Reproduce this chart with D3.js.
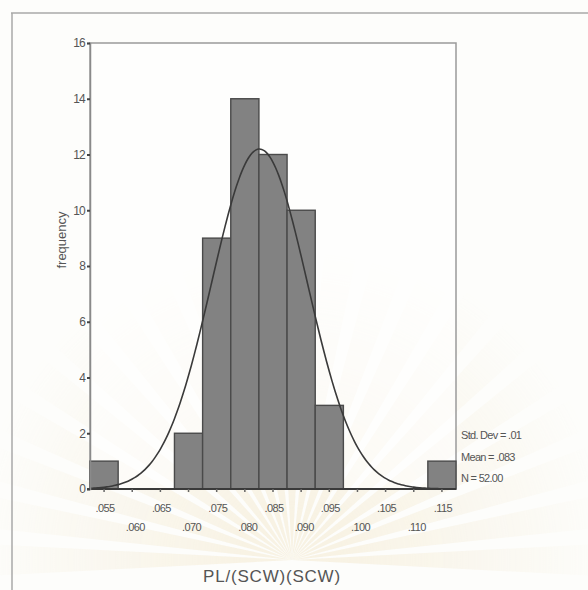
<!DOCTYPE html>
<html>
<head>
<meta charset="utf-8">
<script src="https://cdn.jsdelivr.net/npm/d3@7"></script>
<style>
  html, body { margin: 0; padding: 0; background: #fdfdfb; }
  svg { display: block; }
  text { font-family: "Liberation Sans", Arial, sans-serif; }
</style>
</head>
<body>
<svg id="chart" width="588" height="590"></svg>
<script>
// Histogram bins (lower edge of each bin) and counts
const binStarts = [0.0525, 0.0575, 0.0625, 0.0675, 0.0725, 0.0775, 0.0825, 0.0875, 0.0925, 0.0975, 0.1025, 0.1075, 0.1125];
const counts    = [1, 0, 0, 2, 9, 14, 12, 10, 3, 0, 0, 0, 1];
const binWidth = 0.005;

// Tick labels on the x axis (two staggered rows) and y axis
const xTicksRow1 = [0.055, 0.065, 0.075, 0.085, 0.095, 0.105, 0.115];
const xTicksRow2 = [0.060, 0.070, 0.080, 0.090, 0.100, 0.110];
const yTicks = [0, 2, 4, 6, 8, 10, 12, 14, 16];

// Summary statistics of the fitted normal curve
const statLabels = ["Std. Dev = .01", "Mean = .083", "N = 52.00"];
const fitMean = 0.0826;
const fitSd = 0.0085;
const nCases = 52;

const svg = d3.select("#chart");

// radial fade for the background emblem
const defs = svg.append("defs");
const grad = defs.append("radialGradient").attr("id", "fade")
  .attr("gradientUnits", "userSpaceOnUse").attr("cx", 292).attr("cy", 560).attr("r", 320);
grad.append("stop").attr("offset", "0.15").attr("stop-color", "#fff").attr("stop-opacity", 0.9);
grad.append("stop").attr("offset", "1").attr("stop-color", "#fff").attr("stop-opacity", 0);
defs.append("mask").attr("id", "fadeMask")
  .append("rect").attr("width", 588).attr("height", 590).attr("fill", "url(#fade)");

// faint sunburst emblem in the background
const wm = svg.append("g").attr("mask", "url(#fadeMask)")
  .append("g").attr("transform", "translate(292,560)");
const rays = d3.range(-90, 91, 9);
wm.selectAll("path").data(rays).join("path")
  .attr("d", a => {
    const r = 330, w = 3.0;
    const a0 = (a - 90 - w) * Math.PI / 180, a1 = (a - 90 + w) * Math.PI / 180;
    return `M0,0L${r * Math.cos(a0)},${r * Math.sin(a0)}L${r * Math.cos(a1)},${r * Math.sin(a1)}Z`;
  })
  .attr("fill", "#f3ead0")
  .attr("opacity", 0.6);

// outer frame (top and left edges)
svg.append("line").attr("x1", 11).attr("x2", 588).attr("y1", 13).attr("y2", 13)
  .attr("stroke", "#a9a9a9").attr("stroke-width", 1.5);
svg.append("line").attr("x1", 12).attr("x2", 12).attr("y1", 13).attr("y2", 590)
  .attr("stroke", "#a9a9a9").attr("stroke-width", 1.5);

const plotLeft = 90, plotRight = 456, plotTop = 43, plotBottom = 489;

const x = d3.scaleLinear().domain([0.0525, 0.1175]).range([plotLeft, plotRight]);
const y = d3.scaleLinear().domain([0, 16]).range([plotBottom, plotTop]);

// plot area background and frame
svg.append("rect").attr("x", plotLeft).attr("y", plotTop)
  .attr("width", plotRight - plotLeft).attr("height", plotBottom - plotTop)
  .attr("fill", "#ffffff").attr("fill-opacity", 0.55)
  .attr("stroke", "#9a9a9a").attr("stroke-width", 1.5);

// bars
svg.append("g").selectAll("rect")
  .data(binStarts.map((s, i) => ({ s, c: counts[i] })).filter(d => d.c > 0))
  .join("rect")
  .attr("x", d => x(d.s))
  .attr("y", d => y(d.c))
  .attr("width", d => x(d.s + binWidth) - x(d.s))
  .attr("height", d => y(0) - y(d.c))
  .attr("fill", "#828282")
  .attr("stroke", "#4a4a4a")
  .attr("stroke-width", 1.4);

// fitted normal curve, scaled to counts per bin
const curveX = d3.range(0.0525, 0.11751, 0.0005);
const curvePts = curveX.map(v => [v, nCases * binWidth / (fitSd * Math.sqrt(2 * Math.PI)) *
  Math.exp(-0.5 * Math.pow((v - fitMean) / fitSd, 2))]);
svg.append("path")
  .datum(curvePts)
  .attr("d", d3.line().x(d => x(d[0])).y(d => y(d[1])).curve(d3.curveBasis))
  .attr("fill", "none")
  .attr("stroke", "#3a3a3a")
  .attr("stroke-width", 1.6);

// baseline
svg.append("line").attr("x1", plotLeft - 3).attr("x2", plotRight).attr("y1", plotBottom).attr("y2", plotBottom)
  .attr("stroke", "#3a3a3a").attr("stroke-width", 2);

// y axis ticks and labels
const yAxis = d3.axisLeft(y).tickValues(yTicks).tickSize(3).tickPadding(2).tickFormat(d3.format("d"));
const gy = svg.append("g").attr("transform", `translate(${plotLeft},0)`).call(yAxis);
gy.select(".domain").attr("stroke", "#8a8a8a").attr("stroke-width", 1.5);
gy.selectAll(".tick line").attr("stroke", "#444").attr("stroke-width", 2);
gy.selectAll(".tick text").attr("font-size", 12).attr("fill", "#555")
  .attr("letter-spacing", -0.8)
  .attr("font-family", "Liberation Sans, Arial, sans-serif");

// x axis tick marks at each bin centre
svg.append("g").selectAll("line")
  .data(xTicksRow1.concat(xTicksRow2))
  .join("line")
  .attr("x1", d => x(d)).attr("x2", d => x(d))
  .attr("y1", plotBottom).attr("y2", plotBottom + 3)
  .attr("stroke", "#666").attr("stroke-width", 1.5);

const fmt = d => d3.format(".3f")(d).replace(/^0/, "");
svg.append("g").selectAll("text").data(xTicksRow1).join("text")
  .attr("x", d => x(d) + 1).attr("y", 512)
  .attr("text-anchor", "middle").attr("font-size", 11).attr("fill", "#555")
  .attr("letter-spacing", -0.6)
  .text(fmt);
svg.append("g").selectAll("text").data(xTicksRow2).join("text")
  .attr("x", d => x(d) + 3).attr("y", 531)
  .attr("text-anchor", "middle").attr("font-size", 11).attr("fill", "#555")
  .attr("letter-spacing", -0.6)
  .text(fmt);

// axis titles
svg.append("text")
  .attr("transform", "translate(66,240) rotate(-90)")
  .attr("text-anchor", "middle").attr("font-size", 13).attr("fill", "#555")
  .text("frequency");
svg.append("text")
  .attr("x", 272).attr("y", 582)
  .attr("text-anchor", "middle").attr("font-size", 17).attr("fill", "#555")
  .attr("letter-spacing", 0.8)
  .text("PL/(SCW)(SCW)");

// summary statistics beside the plot
svg.append("g").selectAll("text").data(statLabels).join("text")
  .attr("x", 461).attr("y", (d, i) => 439 + i * 21.5)
  .attr("font-size", 11).attr("fill", "#555").attr("letter-spacing", -0.7)
  .text(d => d);
</script>
</body>
</html>
